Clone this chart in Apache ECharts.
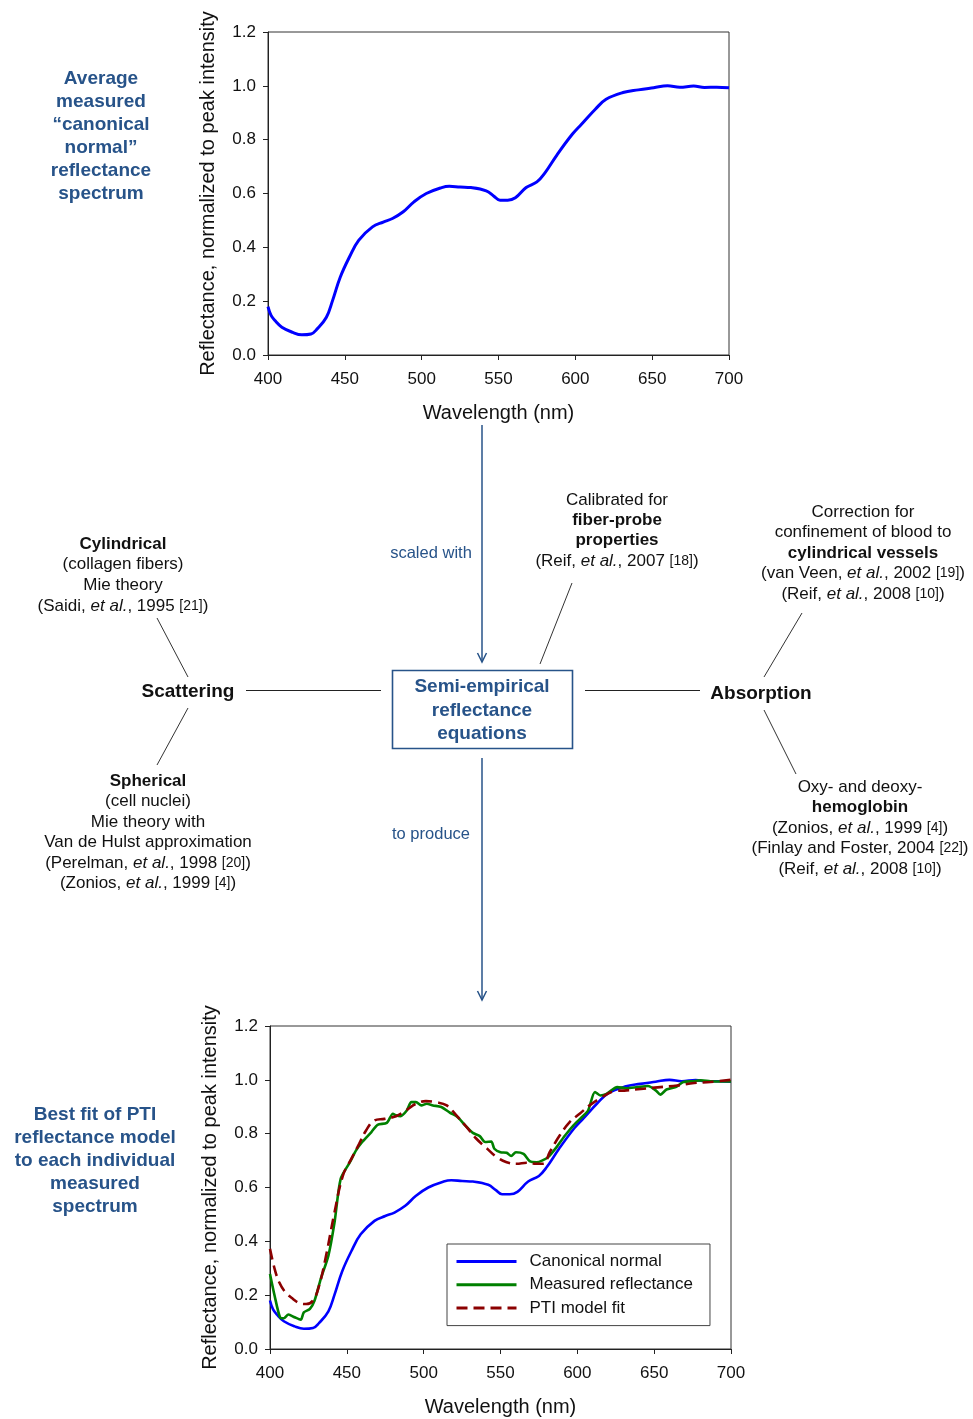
<!DOCTYPE html>
<html>
<head>
<meta charset="utf-8">
<script src="https://cdn.jsdelivr.net/npm/echarts@6/dist/echarts.min.js"></script>
<style>
  html, body { margin: 0; padding: 0; background: #fff; }
  #chart { width: 973px; height: 1419px; }
</style>
</head>
<body>
<div id="chart"></div>
<script>
// Average "canonical normal" spectrum (wavelength in nm, reflectance normalized to peak)
const canonicalNm  = [400,402,405,409,416,422,428,432,438,442,447,453,459,468,475,481,488,495,503,513,518,525,532,542,547,551,556,561,568,575,580,588,598,604,613,620,631,641,651,660,668,677,684,692,700];
const canonicalVal = [0.180,0.147,0.125,0.103,0.084,0.075,0.078,0.097,0.140,0.202,0.289,0.364,0.426,0.476,0.494,0.507,0.532,0.569,0.600,0.622,0.627,0.624,0.622,0.610,0.590,0.575,0.575,0.584,0.622,0.643,0.675,0.743,0.820,0.857,0.913,0.950,0.975,0.985,0.993,1.000,0.995,0.999,0.994,0.995,0.993];

// One individual measured spectrum
const measuredNm  = [400,403,406.5,409,412,416,420,422,426,429,433,438,442,446,452,456,460,466,470,476,480,482,485,489,492,495,498.5,502,506,511.5,517,522,527,532,536.5,540,544,546,550,554,557,560,565,569,573.5,577,581,586.5,592,597.5,603,607,611.5,615,619,626,632,639,646,651,654,658,664,669,676,680,686.5,693,700];
const measuredVal = [0.279,0.198,0.118,0.114,0.128,0.118,0.109,0.136,0.149,0.180,0.260,0.347,0.471,0.632,0.694,0.738,0.769,0.806,0.833,0.840,0.874,0.868,0.865,0.886,0.917,0.917,0.905,0.911,0.905,0.899,0.878,0.862,0.831,0.803,0.791,0.769,0.771,0.744,0.731,0.729,0.717,0.731,0.725,0.698,0.694,0.700,0.713,0.750,0.793,0.831,0.862,0.886,0.955,0.942,0.948,0.973,0.969,0.973,0.977,0.961,0.945,0.964,0.973,0.992,0.995,0.998,0.995,0.994,0.994];

// PTI reflectance model fitted to the measured spectrum
const fitNm  = [400,403,406,410,415,419,423.5,428,432,436.5,442,447.5,453,458,462.5,468,474.5,482,488.5,495,501.5,508,515,521,528,534,541,547.5,554,560.5,567,573.5,578,582,588.5,595,601.5,608,615,623.5,632,643,654,665,676,686.5,700];
const fitVal = [0.372,0.298,0.248,0.211,0.186,0.171,0.167,0.180,0.236,0.347,0.508,0.645,0.707,0.762,0.812,0.849,0.855,0.865,0.886,0.911,0.921,0.917,0.905,0.870,0.824,0.783,0.746,0.713,0.694,0.688,0.692,0.688,0.688,0.731,0.793,0.843,0.874,0.905,0.932,0.957,0.961,0.967,0.973,0.979,0.988,0.992,1.000];

// Axis ticks
const xTicks = { min: 400, max: 700, step: 50 };
const yTicks = { min: 0, max: 1.2, step: 0.2 };

// Names shown in the lower legend
const legendNames = ['Canonical normal', 'Measured reflectance', 'PTI model fit'];

// Flow-diagram text, one entry per line: [text, bold]
const sideTop    = ['Average', 'measured', '\u201ccanonical', 'normal\u201d', 'reflectance', 'spectrum'];
const sideBottom = ['Best fit of PTI', 'reflectance model', 'to each individual', 'measured', 'spectrum'];
const boxLines   = ['Semi-empirical', 'reflectance', 'equations'];
const cylLines   = [['Cylindrical', true], ['(collagen fibers)'], ['Mie theory'], ['(Saidi, {i|et al.}, 1995 {s|[21]})']];
const sphLines   = [['Spherical', true], ['(cell nuclei)'], ['Mie theory with'], ['Van de Hulst approximation'], ['(Perelman, {i|et al.}, 1998 {s|[20]})'], ['(Zonios, {i|et al.}, 1999 {s|[4]})']];
const probeLines = [['Calibrated for'], ['fiber-probe', true], ['properties', true], ['(Reif, {i|et al.}, 2007 {s|[18]})']];
const vesLines   = [['Correction for'], ['confinement of blood to'], ['cylindrical vessels', true], ['(van Veen, {i|et al.}, 2002 {s|[19]})'], ['(Reif, {i|et al.}, 2008 {s|[10]})']];
const hbLines    = [['Oxy- and deoxy-'], ['hemoglobin', true], ['(Zonios, {i|et al.}, 1999 {s|[4]})'], ['(Finlay and Foster, 2004 {s|[22]})'], ['(Reif, {i|et al.}, 2008 {s|[10]})']];

const FONT = "'Liberation Sans', Arial, Helvetica, sans-serif";
const NAVY = '#275389';
const INK = '#111';

const zip = (xs, ys) => xs.map((x, i) => [x, ys[i]]);

function richFor(size, bold) {
  const w = bold ? 'bold' : 'normal';
  return {
    i: { fontFamily: FONT, fontSize: size, fontStyle: 'italic', fontWeight: w },
    s: { fontFamily: FONT, fontSize: 14, fontWeight: w }
  };
}
function txt(x, y, text, o) {
  o = o || {};
  const size = o.size || 17;
  return {
    type: 'text', x: x, y: y, silent: true, z: 10,
    style: {
      text: text, fill: o.fill || INK, fontFamily: FONT, fontSize: size,
      fontWeight: o.bold ? 'bold' : 'normal', align: 'center', verticalAlign: 'middle',
      rich: richFor(size, o.bold)
    }
  };
}
function block(x, y0, lines, dy, size) {
  return lines.map((l, k) => txt(x, y0 + k * dy, l[0], { bold: !!l[1], size: size }));
}
function seg(x1, y1, x2, y2, color, w) {
  return { type: 'line', silent: true, shape: { x1, y1, x2, y2 }, style: { stroke: color || '#333', lineWidth: w || 1 } };
}
function arrowDown(x, y1, y2) {
  return [
    seg(x, y1, x, y2, NAVY, 1.5),
    { type: 'polyline', silent: true, shape: { points: [[x - 4.5, y2 - 9], [x, y2], [x + 4.5, y2 - 9]] },
      style: { stroke: NAVY, lineWidth: 1.5, fill: null } }
  ];
}

const graphics = [].concat(
  sideTop.map((t, k) => txt(101, 79 + k * 23, t, { bold: true, size: 19, fill: NAVY })),
  sideBottom.map((t, k) => txt(95, 1115 + k * 23, t, { bold: true, size: 19, fill: NAVY })),
  arrowDown(482, 425, 662),
  arrowDown(482, 758, 1000),
  [txt(431, 553, 'scaled with', { size: 16.5, fill: NAVY }), txt(431, 834, 'to produce', { size: 16.5, fill: NAVY })],
  [{ type: 'rect', silent: true, shape: { x: 392.5, y: 670.5, width: 180, height: 78 },
     style: { fill: '#fff', stroke: NAVY, lineWidth: 1.6 } }],
  boxLines.map((t, k) => txt(482, 687 + k * 23.5, t, { bold: true, size: 19, fill: NAVY })),
  [seg(246, 690.5, 381, 690.5, '#222'), seg(585, 690.5, 700, 690.5, '#222')],
  [txt(188, 692, 'Scattering', { bold: true, size: 19 }), txt(761, 694, 'Absorption', { bold: true, size: 19 })],
  [seg(157, 618, 188, 677), seg(188, 708, 157, 765), seg(802, 613, 764, 677), seg(764, 710, 796, 774), seg(572, 583, 540, 664)],
  block(123, 544, cylLines, 20.7, 17),
  block(148, 781, sphLines, 20.5, 17),
  block(617, 500, probeLines, 20.3, 17),
  block(863, 512, vesLines, 20.5, 17),
  block(860, 787, hbLines, 20.5, 17)
);

function xAxisFor(gridIndex) {
  return {
    type: 'value', gridIndex: gridIndex, min: xTicks.min, max: xTicks.max, interval: xTicks.step,
    name: 'Wavelength (nm)', nameLocation: 'middle', nameGap: 48,
    nameTextStyle: { fontFamily: FONT, fontSize: 20, color: INK },
    axisLine: { show: true, lineStyle: { color: '#222', width: 1 } },
    axisTick: { show: true, inside: false, length: 5, lineStyle: { color: '#222' } },
    axisLabel: { fontFamily: FONT, fontSize: 17, color: INK, margin: 16 },
    splitLine: { show: false }
  };
}
function yAxisFor(gridIndex) {
  return {
    type: 'value', gridIndex: gridIndex, min: yTicks.min, max: yTicks.max, interval: yTicks.step,
    name: 'Reflectance, normalized to peak intensity', nameLocation: 'middle', nameGap: 50,
    nameTextStyle: { fontFamily: FONT, fontSize: 20, color: INK },
    axisLine: { show: true, lineStyle: { color: '#222', width: 1 } },
    axisTick: { show: true, inside: false, length: 5, lineStyle: { color: '#222' } },
    axisLabel: { fontFamily: FONT, fontSize: 17, color: INK, margin: 12, formatter: v => v.toFixed(1) },
    splitLine: { show: false }
  };
}

const chart = echarts.init(document.getElementById('chart'), null, { renderer: 'canvas' });
chart.setOption({
  animation: false,
  backgroundColor: '#fff',
  grid: [
    { left: 268, top: 32, width: 461, height: 323, show: true, borderColor: '#333', borderWidth: 1 },
    { left: 270, top: 1026, width: 461, height: 323, show: true, borderColor: '#333', borderWidth: 1 }
  ],
  xAxis: [xAxisFor(0), xAxisFor(1)],
  yAxis: [yAxisFor(0), yAxisFor(1)],
  legend: {
    data: legendNames,
    orient: 'vertical',
    left: 447, top: 1244,
    padding: [9, 17, 9, 8],
    itemWidth: 60, itemHeight: 17, itemGap: 6.3,
    backgroundColor: '#fff',
    borderColor: '#444', borderWidth: 1, borderRadius: 0,
    selectedMode: false,
    itemStyle: { color: 'rgba(0,0,0,0)', borderColor: 'rgba(0,0,0,0)', borderWidth: 0 },
    lineStyle: { width: 3 },
    textStyle: { fontFamily: FONT, fontSize: 17, color: INK, padding: [0, 0, 0, 8] }
  },
  series: [
    { name: 'Average spectrum', type: 'line', xAxisIndex: 0, yAxisIndex: 0, data: zip(canonicalNm, canonicalVal),
      showSymbol: false, symbol: 'none', smooth: 0.4, lineStyle: { color: '#0000ff', width: 3 }, itemStyle: { color: '#0000ff' } },
    { name: legendNames[0], type: 'line', xAxisIndex: 1, yAxisIndex: 1, data: zip(canonicalNm, canonicalVal),
      showSymbol: false, symbol: 'none', smooth: 0.4, lineStyle: { color: '#0000ff', width: 2.6 }, itemStyle: { color: '#0000ff' } },
    { name: legendNames[1], type: 'line', xAxisIndex: 1, yAxisIndex: 1, data: zip(measuredNm, measuredVal),
      showSymbol: false, symbol: 'none', smooth: 0.25, lineStyle: { color: '#008000', width: 2.6 }, itemStyle: { color: '#008000' } },
    { name: legendNames[2], type: 'line', xAxisIndex: 1, yAxisIndex: 1, data: zip(fitNm, fitVal),
      showSymbol: false, symbol: 'none', smooth: 0.4, lineStyle: { color: '#8b0000', width: 2.6, type: [11, 6] }, itemStyle: { color: '#8b0000' } }
  ],
  graphic: graphics
});
</script>
</body>
</html>
